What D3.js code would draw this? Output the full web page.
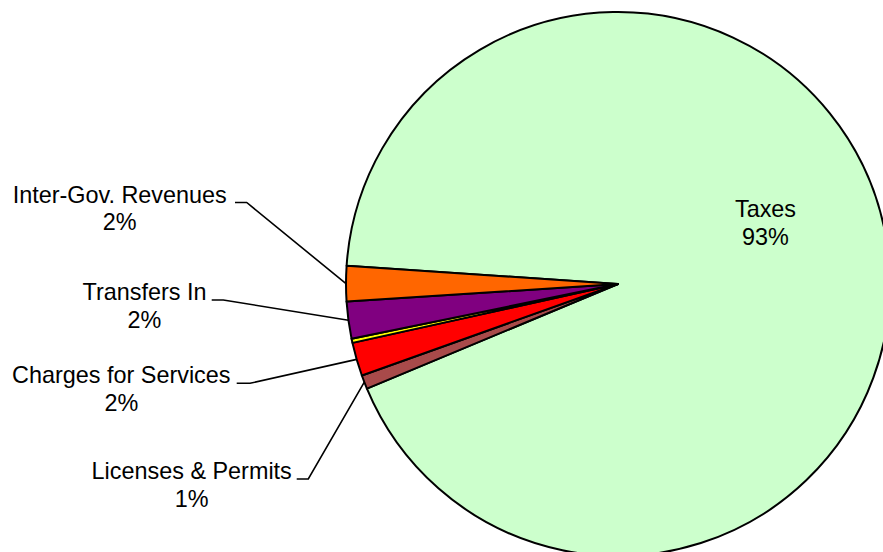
<!DOCTYPE html>
<html>
<head>
<meta charset="utf-8">
<script src="https://cdn.jsdelivr.net/npm/d3@7"></script>
<style>
  html, body { margin: 0; padding: 0; background: #ffffff; }
  svg { display: block; }
  text { font-family: "Liberation Sans", Arial, sans-serif; }
</style>
</head>
<body>
<svg id="chart" width="883" height="552"></svg>
<script>
// ---- data ----
const categories = ["Taxes", "Licenses & Permits", "Charges for Services", "Miscellaneous", "Transfers In", "Inter-Gov. Revenues"];
const values     = [92.62, 0.82, 1.99, 0.25, 2.19, 2.10];
const colors     = ["#CCFFCC", "#A84A4A", "#FF0000", "#FFFF00", "#800080", "#FF6600"];
const showLabel  = [true, true, true, false, true, true];

// ---- layout ----
const W = 883, H = 552;
const cx = 618, cy = 284, R = 272;
const fontSize = 23.4, lineH = 27.7;
// label layout: text centre x, first baseline y, leader start x, elbow x (outside labels)
const labelLayout = {
  "Taxes":                { tx: 765.5, ty: 217.3, inside: true },
  "Licenses & Permits":   { tx: 191.7, ty: 479.0, lx0: 296.7, lx1: 308.3 },
  "Charges for Services": { tx: 121.3, ty: 383.3, lx0: 236.7, lx1: 250.0 },
  "Transfers In":         { tx: 144.5, ty: 300.0, lx0: 211.7, lx1: 223.3 },
  "Inter-Gov. Revenues":  { tx: 119.7, ty: 202.5, lx0: 235.0, lx1: 246.7 }
};

const svg = d3.select("#chart");
const g = svg.append("g").attr("transform", `translate(${cx},${cy})`);

const startAngle = -86.15 * Math.PI / 180;
const pie = d3.pie().sort(null).value(d => d.value)
  .startAngle(startAngle).endAngle(startAngle + 2 * Math.PI);
const data = categories.map((c, i) => ({ name: c, value: values[i], color: colors[i], show: showLabel[i] }));
const arcs = pie(data);
const total = d3.sum(values);

const arc = d3.arc().innerRadius(0).outerRadius(R);

g.selectAll("path.slice").data(arcs).join("path")
  .attr("class", "slice")
  .attr("d", arc)
  .attr("fill", d => d.data.color)
  .attr("stroke", "#000")
  .attr("stroke-width", 2)
  .attr("stroke-linejoin", "round");

// labels
arcs.filter(d => d.data.show).forEach(d => {
  const L = labelLayout[d.data.name];
  const pct = Math.round(d.data.value / total * 100) + "%";
  const t = svg.append("text")
    .attr("x", L.tx).attr("y", L.ty)
    .attr("text-anchor", "middle")
    .attr("font-size", fontSize)
    .attr("fill", "#000");
  t.append("tspan").attr("x", L.tx).attr("y", L.ty).text(d.data.name);
  t.append("tspan").attr("x", L.tx).attr("y", L.ty + lineH).text(pct);
  if (!L.inside) {
    const mid = (d.startAngle + d.endAngle) / 2;
    const px = cx + R * Math.sin(mid);
    const py = cy - R * Math.cos(mid);
    svg.append("polyline")
      .attr("points", `${L.lx0},${L.ty} ${L.lx1},${L.ty} ${px},${py}`)
      .attr("fill", "none")
      .attr("stroke", "#000")
      .attr("stroke-width", 1.6);
  }
});
</script>
</body>
</html>
